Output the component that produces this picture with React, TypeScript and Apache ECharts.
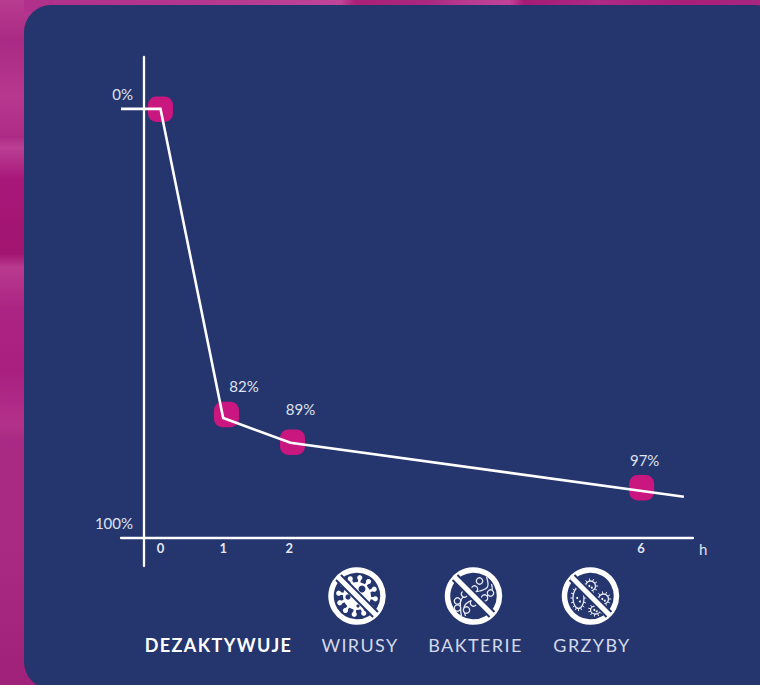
import React, { useEffect, useRef } from "react";
import * as echarts from "echarts";

// Hours shown on the (non-linear) time axis and where each one sits on it
const hourLabels = ["0", "1", "2", "6"];
const hourSlots = [0, 1, 2, 7.29];
const tickSlots = [0, 0.95, 1.95, 7.28];
// Percent labels of the markers
const pointLabels = ["", "82%", "89%", "97%"];
// Marker heights above the base line (the picture is not to scale with its labels)
const markerHeights = [99.9, 28.7, 22.2, 11.6];
// Curve drawn through the markers
const lineSlots = [-0.598, 0, 0.95, 1.97, 7.93];
const lineHeights = [100, 100, 27.9, 22.1, 9.5];
// Vertical axis labels
const yTicks = [0, 100];
const yTickLabels = ["100%", "0%"];
// Footer texts
const footerLead = "DEZAKTYWUJE";
const footerItems = ["WIRUSY", "BAKTERIE", "GRZYBY"];

const NAVY = "#25356e";
const PINK = "#c9177f";
const FONT = "Lato, sans-serif";
const labelOffsets = [[0, 0], [17.5, -28.5], [8, -33.5], [3, -28]];
const ROUND = "path://M8,0H16A8,8 0 0 1 24,8V16A8,8 0 0 1 16,24H8A8,8 0 0 1 0,16V8A8,8 0 0 1 8,0Z";

function ring(cx: number, cy: number) {
  return [
    { type: "circle", z: 5, shape: { cx, cy, r: 26 }, style: { fill: "none", stroke: "#fff", lineWidth: 5.5 } },
  ];
}
function slash(cx: number, cy: number) {
  const d = 18.5;
  return [
    { type: "line", z: 6, shape: { x1: cx - d, y1: cy - d, x2: cx + d, y2: cy + d }, style: { stroke: NAVY, lineWidth: 9 } },
    { type: "line", z: 7, shape: { x1: cx - d - 1, y1: cy - d - 1, x2: cx + d + 1, y2: cy + d + 1 }, style: { stroke: "#fff", lineWidth: 5.2 } },
  ];
}
function virusIcon(cx: number, cy: number) {
  const els: any[] = [];
  els.push({ type: "circle", z: 5, shape: { cx, cy, r: 14 }, style: { fill: "#fff" } });
  for (let i = 0; i < 12; i++) {
    const a = (i * Math.PI) / 6 + 0.15;
    const x = cx + Math.cos(a) * 18.5;
    const y = cy + Math.sin(a) * 18.5;
    els.push({ type: "line", z: 5, shape: { x1: cx, y1: cy, x2: x, y2: y }, style: { stroke: "#fff", lineWidth: 2.6 } });
    els.push({ type: "circle", z: 5, shape: { cx: x, cy: y, r: 2.6 }, style: { fill: "#fff" } });
  }
  els.push({ type: "circle", z: 5, shape: { cx: cx + 5, cy: cy - 7, r: 3.5 }, style: { fill: NAVY } });
  els.push({ type: "circle", z: 5, shape: { cx: cx - 9, cy: cy + 1, r: 2.6 }, style: { fill: NAVY } });
  els.push({ type: "circle", z: 5, shape: { cx: cx + 1, cy: cy + 10, r: 1.6 }, style: { fill: NAVY } });
  return [...els, ...slash(cx, cy), ...ring(cx, cy)];
}
function bacteriaIcon(cx: number, cy: number) {
  const els: any[] = [];
  const thin = { fill: "none", stroke: "#e8ebf3", lineWidth: 1.3 };
  const beads = [[6, -15], [17, -3], [1, -7], [-9, -2], [-16, 5], [11, 2], [0, 7], [-7, 14], [-16, 12]];
  beads.forEach(([dx, dy]) =>
    els.push({ type: "circle", z: 5, shape: { cx: cx + dx, cy: cy + dy, r: 3.2 }, style: { ...thin, fill: NAVY } })
  );
  els.unshift({
    type: "polyline", z: 4,
    shape: { smooth: 0.4, points: [[cx + 13, cy - 19], [cx + 14, cy - 9], [cx + 6, cy - 5], [cx - 3, cy - 3], [cx - 12, cy + 3], [cx - 13, cy + 12], [cx - 12, cy + 20]] },
    style: { ...thin },
  });
  els.unshift({
    type: "polyline", z: 4,
    shape: { smooth: 0.4, points: [[cx + 18, cy - 12], [cx + 18, cy - 4], [cx + 9, cy + 2], [cx - 1, cy + 4], [cx - 9, cy + 10], [cx - 8, cy + 20]] },
    style: { ...thin },
  });
  return [...els, ...slash(cx, cy), ...ring(cx, cy)];
}
function germ(cx: number, cy: number, rx: number, ry: number, spikes: number) {
  const els: any[] = [
    { type: "ellipse", z: 5, shape: { cx, cy, rx, ry }, style: { fill: "none", stroke: "#e8ebf3", lineWidth: 1.3 } },
    { type: "circle", z: 5, shape: { cx: cx - rx / 4, cy, r: 1 }, style: { fill: "#fff" } },
    { type: "circle", z: 5, shape: { cx: cx + rx / 4, cy: cy + ry / 3, r: 1 }, style: { fill: "#fff" } },
  ];
  for (let i = 0; i < spikes; i++) {
    const a = (i * 2 * Math.PI) / spikes;
    els.push({
      type: "line", z: 5,
      shape: { x1: cx + Math.cos(a) * rx, y1: cy + Math.sin(a) * ry, x2: cx + Math.cos(a) * (rx + 2.6), y2: cy + Math.sin(a) * (ry + 2.6) },
      style: { stroke: "#e8ebf3", lineWidth: 1 },
    });
  }
  return els;
}
function fungiIcon(cx: number, cy: number) {
  return [
    ...germ(cx - 12, cy + 2, 5.5, 10.5, 16),
    ...germ(cx + 0, cy - 10, 5, 5, 11),
    ...germ(cx + 13, cy + 3, 5, 5, 11),
    ...germ(cx + 5, cy + 14, 5, 4, 11),
    ...slash(cx, cy),
    ...ring(cx, cy),
  ];
}

function backdrop() {
  const grad = (x2: number, y2: number, stops: [number, string][]) => ({
    type: "linear", x: 0, y: 0, x2, y2,
    colorStops: stops.map(([offset, color]) => ({ offset, color })),
  });
  return [
    {
      type: "rect", z: -10, shape: { x: 0, y: 0, width: 60, height: 685 },
      style: {
        fill: grad(0, 1, [
          [0, "#b83c90"], [0.06, "#a92a84"], [0.14, "#b8388f"], [0.2, "#ad2b86"], [0.215, "#bb4094"],
          [0.26, "#a8187a"], [0.37, "#a1146f"], [0.39, "#b83a8f"], [0.45, "#ac2483"], [0.54, "#a91f80"],
          [0.62, "#b2318a"], [0.64, "#a92a84"], [0.8, "#a92a82"], [1, "#a0217a"],
        ]),
      },
    },
    {
      type: "rect", z: -9, shape: { x: 24, y: 0, width: 736, height: 12 },
      style: {
        fill: grad(1, 0, [
          [0, "#b0308a"], [0.24, "#b4368e"], [0.43, "#c0459a"], [0.45, "#a92078"], [0.55, "#aa2880"],
          [0.6, "#b83a90"], [0.66, "#c0429a"], [0.68, "#a51a75"], [0.78, "#ad2a85"], [0.9, "#a81f7a"], [1, "#a82680"],
        ]),
      },
    },
    { type: "rect", z: -8, shape: { x: 24, y: 5, width: 758, height: 684, r: 27 }, style: { fill: NAVY } },
  ];
}

function footerText() {
  const base = { fontFamily: FONT, fontSize: 18, textAlign: "center", textVerticalAlign: "middle" };
  const centers = [360, 475.5, 592];
  return [
    { type: "text", z: 5, x: 218.5, y: 645, style: { ...base, text: footerLead, fontWeight: 700, fill: "#ffffff" } },
    ...footerItems.map((text, i) => ({
      type: "text", z: 5, x: centers[i], y: 645, style: { ...base, text, fontWeight: 400, fill: "#d3d9e8" },
    })),
  ];
}

export default function App() {
  const ref = useRef<HTMLDivElement>(null);
  useEffect(() => {
    const chart = echarts.init(ref.current!, undefined, { renderer: "svg" });
    const axisLine = { lineStyle: { color: "#ffffff", width: 2.3 } };
    chart.setOption({
      animation: false,
      backgroundColor: "#a92a84",
      textStyle: { fontFamily: FONT },
      grid: { left: 121, right: 67, top: 57, bottom: 119 },
      xAxis: {
        type: "value", min: -0.598, max: 8.068,
        name: "h", nameLocation: "end", nameGap: 6,
        nameTextStyle: { color: "#dfe3ee", fontSize: 15, fontFamily: FONT, verticalAlign: "top", padding: [4, 0, 0, 0] },
        axisLine: { ...axisLine, onZero: true, symbol: "none" },
        axisTick: { show: false },
        splitLine: { show: false },
        axisLabel: {
          customValues: tickSlots, margin: -25, color: "#e4e7f0", fontSize: 13, fontWeight: 700, fontFamily: FONT,
          formatter: (v: number) => hourLabels[tickSlots.indexOf(v)] ?? "",
        },
      },
      yAxis: {
        type: "value", min: -6.65, max: 112.1, position: "left", offset: -23,
        axisLine: { ...axisLine, show: true, onZero: false, symbol: "none" },
        axisTick: { show: false },
        splitLine: { show: false },
        axisLabel: {
          customValues: yTicks, margin: 11, color: "#dfe3ee", fontSize: 15, fontFamily: FONT,
          verticalAlign: "bottom", padding: [0, 0, 7, 0],
          formatter: (v: number) => yTickLabels[yTicks.indexOf(v)] ?? "",
        },
      },
      series: [
        {
          type: "scatter", z: 3, symbol: ROUND, symbolSize: [25, 25.5],
          itemStyle: { color: PINK, opacity: 1 },
          data: hourSlots.map((x, i) => ({
            value: [x, markerHeights[i]],
            label: {
              show: !!pointLabels[i], position: "inside", offset: labelOffsets[i],
              formatter: pointLabels[i], color: "#dfe3ee", fontSize: 15, fontFamily: FONT,
            },
          })),
        },
        {
          type: "line", z: 4, symbol: "none", silent: true,
          lineStyle: { color: "#ffffff", width: 2.6, join: "miter" },
          data: lineSlots.map((x, i) => [x, lineHeights[i]]),
        },
      ],
      graphic: {
        elements: [
          ...backdrop(),
          ...virusIcon(357, 596),
          ...bacteriaIcon(473.5, 596),
          ...fungiIcon(590.5, 596),
          ...footerText(),
        ],
      },
    });
    return () => chart.dispose();
  }, []);
  return (
    <>
      <style>{`svg text[style*="18px"] { letter-spacing: 1.4px; }`}</style>
      <div ref={ref} style={{ position: "fixed", left: 0, top: 0, width: 760, height: 685 }} />
    </>
  );
}
